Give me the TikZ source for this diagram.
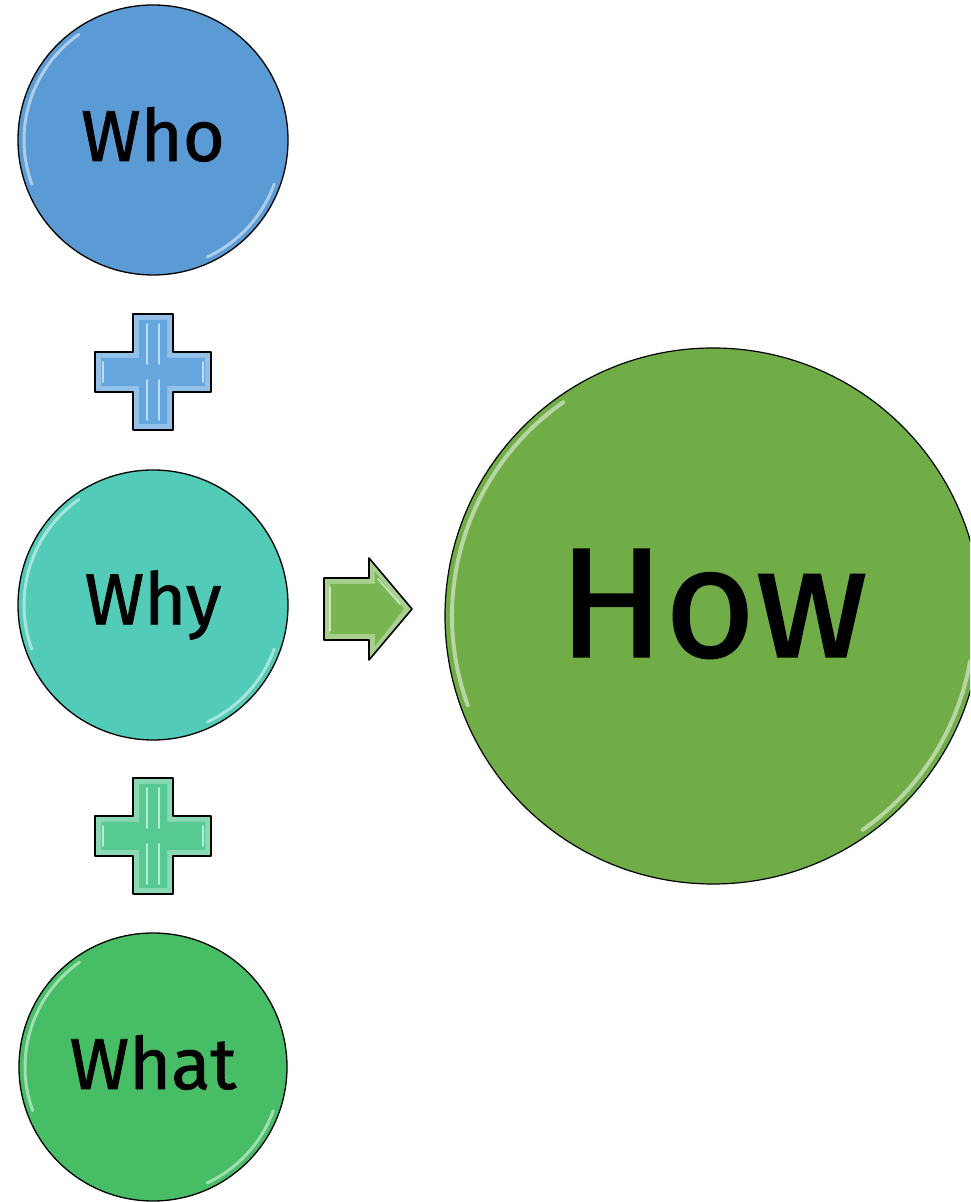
\documentclass[tikz,border=0pt]{standalone}
\usepackage{fontspec}
\setmainfont{Fira Sans}
\newfontfamily\labfont{Fira Sans}[FakeBold=1.1]
\usetikzlibrary{calc}
\definecolor{cwho}{HTML}{5B9BD5}
\definecolor{cwhy}{HTML}{52CBB8}
\definecolor{cwhat}{HTML}{47BD65}
\definecolor{chow}{HTML}{70AD47}
\definecolor{cplusA}{HTML}{65A6DE}
\definecolor{cplusB}{HTML}{57C993}
\definecolor{carrow}{HTML}{78B652}
\tikzset{
  ball/.style={circle, draw=black, line width=1.3pt, inner sep=0pt, text=black},
  smalltext/.style={font=\labfont\fontsize{72}{75}\selectfont},
  gloss/.style={draw=white, line width=3pt, opacity=0.5, line cap=round},
  plusbody/.style={draw=black, line width=1.6pt, line join=round},
  bevel/.style={draw=white, line width=1.8pt, opacity=0.6, line cap=round},
}
\newcommand{\plusshape}{(-20,-58) -- (20,-58) -- (20,-20) -- (58,-20) -- (58,20) -- (20,20) -- (20,58) -- (-20,58) -- (-20,20) -- (-58,20) -- (-58,-20) -- (-20,-20) -- cycle}
\begin{document}
\begin{tikzpicture}[x=1pt,y=1pt]
\useasboundingbox (0,0) rectangle (970,1202);
\clip (0,0) rectangle (970,1202);

% circles
\node[ball, fill=cwho, minimum size=270pt, smalltext] (who) at (153,1062) {\raisebox{12pt}{Who}};
\node[ball, fill=cwhy, minimum size=270pt, smalltext] (why) at (153,597) {\raisebox{7pt}{Why}};
\node[ball, fill=cwhat, minimum size=268pt, smalltext] (what) at (153,135) {\raisebox{10pt}{What}};
\node[ball, fill=chow, minimum size=536pt, line width=1.2pt, font=\labfont\fontsize{156}{160}\selectfont] (how) at (713,586) {\raisebox{26pt}{How}};

% gloss highlights
\foreach \n/\r in {who/129, why/129, what/128} {
  \draw[gloss] ($(\n.center)+(125:\r)$) arc (125:200:\r);
  \draw[gloss] ($(\n.center)+(-20:\r)$) arc (-20:-65:\r);
}
\draw[gloss, line width=4pt] ($(how.center)+(125:261)$) arc (125:200:261);
\draw[gloss, line width=4pt] ($(how.center)+(-10:261)$) arc (-10:-55:261);

% plus signs
\coordinate (plusone) at (153,830);
\coordinate (plustwo) at (153,366);
\foreach \p/\c in {plusone/cplusA, plustwo/cplusB} {
  \begin{scope}[shift={(\p)}]
    \fill[\c!70!white] \plusshape;
    \fill[\c] (-14,-52) -- (14,-52) -- (14,-14) -- (52,-14) -- (52,14) -- (14,14) -- (14,52) -- (-14,52) -- (-14,14) -- (-52,14) -- (-52,-14) -- (-14,-14) -- cycle;
    \draw[bevel] (-6,-48) -- (-6,-8);
    \draw[bevel] (6,-48) -- (6,-8);
    \draw[bevel] (-6,48) -- (-6,8);
    \draw[bevel] (6,48) -- (6,8);
    \draw[bevel] (-50,10) -- (-50,-10);
    \draw[bevel] (50,10) -- (50,-10);
    \draw[plusbody] \plusshape;
  \end{scope}
}

% arrow
\coordinate (arrowc) at (368,593);
\begin{scope}[shift={(arrowc)}]
  \fill[carrow!65!white] (-44,-31) -- (1,-31) -- (1,-51) -- (44,0) -- (1,51) -- (1,31) -- (-44,31) -- cycle;
  \fill[carrow] (-38,-25) -- (7,-25) -- (7,-37) -- (36,0) -- (7,37) -- (7,25) -- (-38,25) -- cycle;
  \draw[bevel] (-38,-22) -- (-38,22);
  \draw[bevel] (10,30) -- (32,5);
  \draw[black, line width=1.6pt, line join=round] (-44,-31) -- (1,-31) -- (1,-51) -- (44,0) -- (1,51) -- (1,31) -- (-44,31) -- cycle;
\end{scope}
\end{tikzpicture}
\end{document}
